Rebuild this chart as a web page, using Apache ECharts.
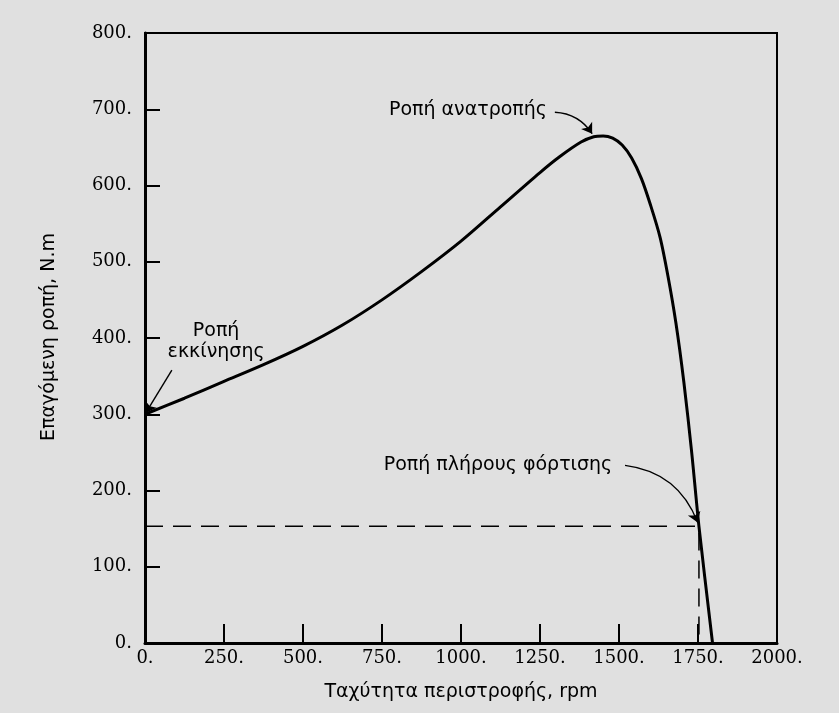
<!DOCTYPE html>
<html>
<head>
<meta charset="utf-8">
<script src="https://cdn.jsdelivr.net/npm/echarts@6/dist/echarts.min.js"></script>
<style>
html,body{margin:0;padding:0;background:#e0e0e0;}
#c{width:839px;height:713px;}
</style>
</head>
<body>
<div id="c"></div>
<script>
// Curve data
const rpm    = [0,   125, 250, 375, 500, 625, 750, 875, 1000, 1125, 1250, 1313, 1380, 1420, 1450, 1480, 1510, 1540, 1571, 1600, 1630, 1655, 1680, 1705, 1730, 1753, 1796];
const torque = [300, 321, 343, 365, 389, 417, 450, 487, 527,  572,  617,  638,  657,  664,  665,  662,  653,  636,  609,  574,  532,  481,  420,  343,  250,  153,  0];
// Full-load operating point
const fullLoadRpm = 1753;
const fullLoadTorque = 153;
// Axis ticks
const xTicks = [0, 250, 500, 750, 1000, 1250, 1500, 1750, 2000];
const yTicks = [0, 100, 200, 300, 400, 500, 600, 700, 800];
// Annotation texts and anchor points (data coords)
const noteTexts = ['Ροπή ανατροπής', 'Ροπή\nεκκίνησης', 'Ροπή πλήρους φόρτισης'];
const noteX = [1022, 225, 1117];
const noteY = [699, 395, 233];
// Arrows: [startRpm, startT] -> [endRpm, endT]
const arrowStart = [[1297, 696], [85, 358], [1519, 233]];
const arrowEnd   = [[1415, 668], [3, 302], [1749, 158]];
const arrowCurve = [0.25, 0, 0.3];

const xName = 'Ταχύτητα περιστροφής, rpm';
const yName = 'Επαγόμενη ροπή, N.m';

const chart = echarts.init(document.getElementById('c'), null, {renderer: 'canvas'});
const serif = '"DejaVu Serif", serif';
const sans = '"DejaVu Sans", sans-serif';

const curve = rpm.map((r, i) => [r, torque[i]]);
const dashed = [[0, fullLoadTorque], [fullLoadRpm, fullLoadTorque], [fullLoadRpm, 0]];

chart.setOption({
  backgroundColor: '#e0e0e0',
  animation: false,
  grid: {left: 145, top: 33, right: 62, bottom: 70, show: true, borderColor: '#000', borderWidth: 2, backgroundColor: 'transparent'},
  xAxis: {
    type: 'value', min: xTicks[0], max: xTicks[xTicks.length - 1], interval: xTicks[1] - xTicks[0],
    name: xName, nameLocation: 'middle', nameGap: 40,
    nameTextStyle: {fontFamily: sans, fontSize: 19, color: '#000'},
    axisLine: {show: true, onZero: false, lineStyle: {color: '#000', width: 3}},
    axisTick: {show: true, inside: true, length: 19, lineStyle: {color: '#000', width: 2}},
    axisLabel: {formatter: v => v + '.', fontFamily: serif, fontSize: 18, color: '#000', margin: 6},
    splitLine: {show: false}
  },
  yAxis: {
    type: 'value', min: yTicks[0], max: yTicks[yTicks.length - 1], interval: yTicks[1] - yTicks[0],
    axisLine: {show: true, onZero: false, lineStyle: {color: '#000', width: 3}},
    axisTick: {show: true, inside: true, length: 15, lineStyle: {color: '#000', width: 2}},
    axisLabel: {formatter: v => v + '.', fontFamily: serif, fontSize: 18, color: '#000', margin: 13},
    splitLine: {show: false}
  },
  graphic: [{
    type: 'text', x: 49, y: 337, rotation: Math.PI / 2,
    style: {text: yName, font: '19px ' + sans, fill: '#000', align: 'center', verticalAlign: 'middle'}
  }],
  series: [
    {
      type: 'line', data: curve, smooth: 0.3, showSymbol: false, symbol: 'none',
      lineStyle: {color: '#000', width: 3}, z: 5
    },
    {
      type: 'line', data: dashed, showSymbol: false, symbol: 'none',
      lineStyle: {color: '#000', width: 1.5, type: [18, 10]}, z: 4
    },
    {
      type: 'lines', coordinateSystem: 'cartesian2d', z: 6,
      symbol: ['none', 'arrow'], symbolSize: 10,
      data: arrowStart.map((s, i) => ({coords: [s, arrowEnd[i]], lineStyle: {curveness: arrowCurve[i]}})),
      lineStyle: {color: '#000', width: 1.4, opacity: 1}
    },
    {
      type: 'scatter', symbolSize: 0, z: 7, itemStyle: {opacity: 1},
      data: noteTexts.map((t, i) => ({value: [noteX[i], noteY[i]], name: t})),
      label: {show: true, position: 'inside', formatter: p => p.name, fontFamily: sans, fontSize: 19, color: '#000000', opacity: 1, lineHeight: 21, align: 'center'}
    }
  ]
});
</script>
</body>
</html>
